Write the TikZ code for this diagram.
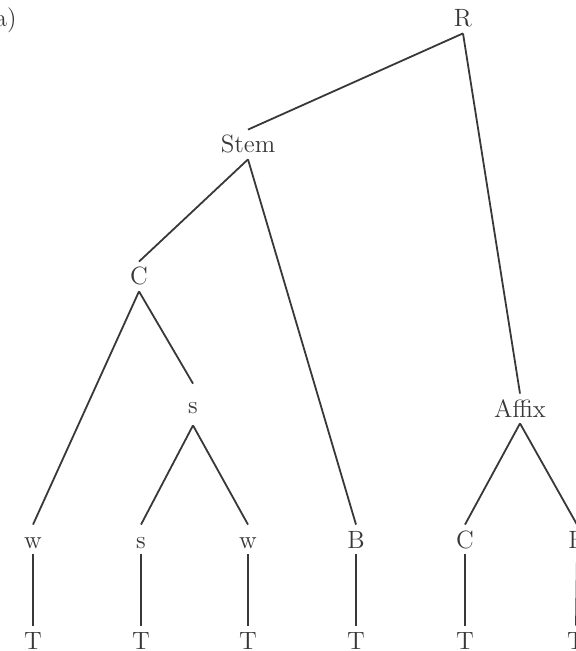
\documentclass[tikz,border=0pt]{standalone}
\usepackage{fontspec}
\definecolor{ink}{HTML}{383838}
\tikzset{
  lbl/.style={font=\fontsize{12.5}{14}\selectfont, text=ink, text height=8.5pt,
              text depth=0pt, inner xsep=1pt, inner ysep=3pt, anchor=base},
  branch/.style={draw=ink, line width=0.9pt},
}
\begin{document}
\begin{tikzpicture}[x=0.5pt,y=-0.5pt]
  \useasboundingbox (0,0) rectangle (576,651);
  \clip (0,0) rectangle (576,651);

  % panel tag
  \node[lbl, anchor=base west, inner xsep=0pt] (tag) at (-5.5,27) {a)};

  % inner nodes
  \node[lbl] (R)     at (463,27)  {R};
  \node[lbl] (Stem)  at (248,153) {Stem};
  \node[lbl] (C1)    at (139,285) {C};
  \node[lbl, inner ysep=6pt] (s1) at (193,413) {s};
  \node[lbl] (Affix) at (520,417) {Affix};

  % terminal row
  \node[lbl] (w1) at (33,548)  {w};
  \node[lbl] (s2) at (141,548) {s};
  \node[lbl] (w2) at (248,548) {w};
  \node[lbl] (B1) at (356,548) {B};
  \node[lbl] (C2) at (465,548) {C};
  \node[lbl] (B2) at (577,548) {B};

  % tone row
  \node[lbl] (T1) at (33,649)  {T};
  \node[lbl] (T2) at (141,649) {T};
  \node[lbl] (T3) at (248,649) {T};
  \node[lbl] (T4) at (356,649) {T};
  \node[lbl] (T5) at (465,649) {T};
  \node[lbl] (T6) at (576,649) {T};

  % branches
  \draw[branch] (R.south) -- (Stem.north);
  \draw[branch] (R.south) -- (Affix.north);
  \draw[branch] (Stem.south) -- (C1.north);
  \draw[branch] (Stem.south) -- (B1.north);
  \draw[branch] (C1.south) -- (w1.north);
  \draw[branch] (C1.south) -- (s1.north);
  \draw[branch] (s1.south) -- (s2.north);
  \draw[branch] (s1.south) -- (w2.north);
  \draw[branch] (Affix.south) -- (C2.north);
  \draw[branch] (Affix.south) -- (B2.north);

  % association lines
  \draw[branch] (w1.south) -- (T1.north);
  \draw[branch] (s2.south) -- (T2.north);
  \draw[branch] (w2.south) -- (T3.north);
  \draw[branch] (B1.south) -- (T4.north);
  \draw[branch] (C2.south) -- (T5.north);
  \draw[branch] (B2.south) -- (T6.north);
\end{tikzpicture}
\end{document}
